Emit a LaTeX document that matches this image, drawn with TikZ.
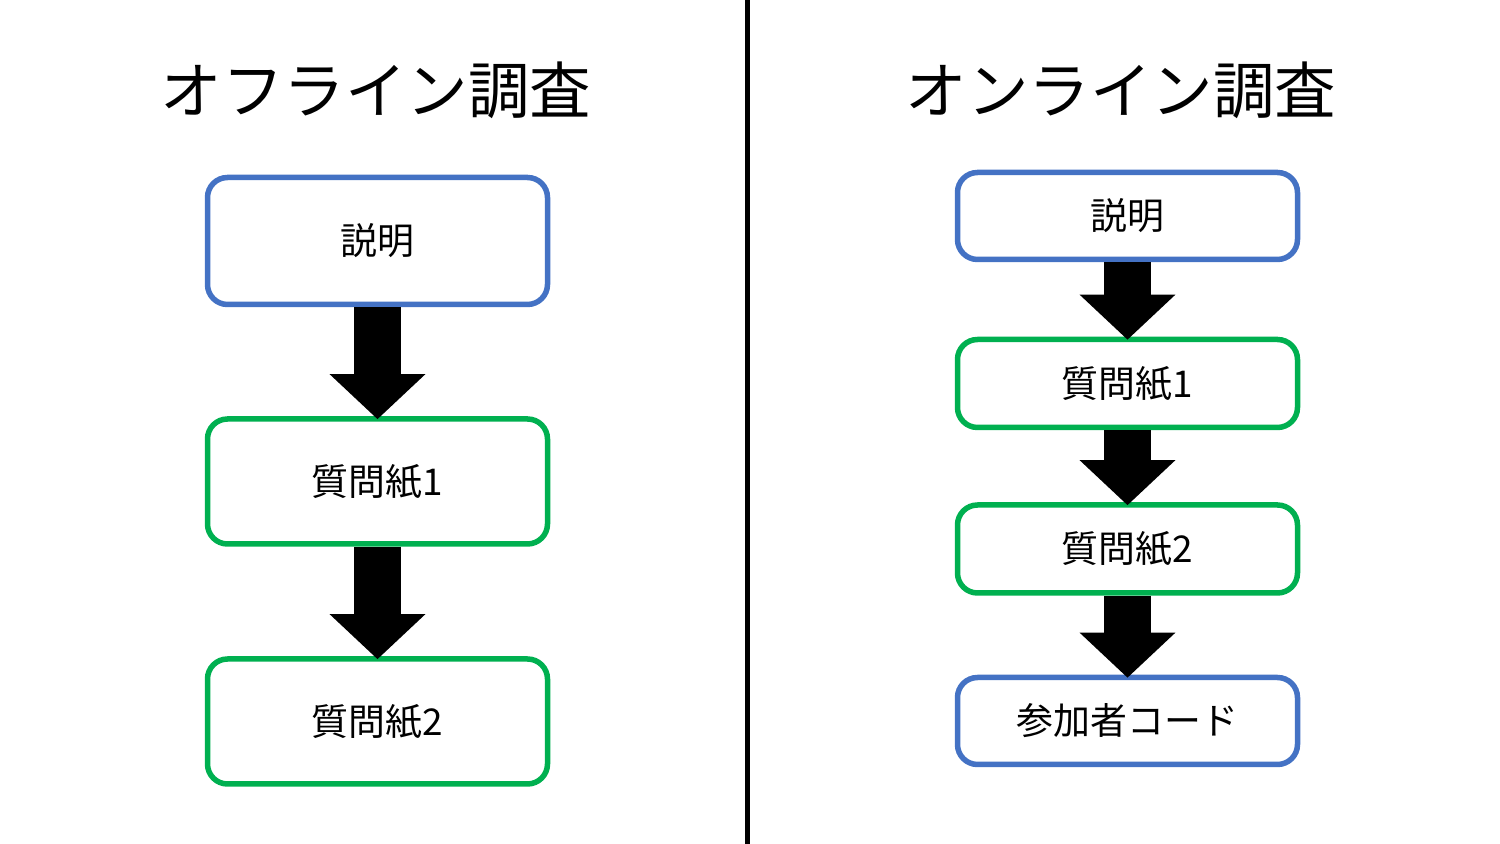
\documentclass[tikz,border=0pt]{standalone}
\usepackage{fontspec}
\setmainfont{Noto Sans CJK JP}
\usepackage{tikz}
\usetikzlibrary{arrows.meta, positioning, calc}
\definecolor{boxblue}{HTML}{4472C4}
\definecolor{boxgreen}{HTML}{00B050}
\tikzstyle{step box}=[rectangle, rounded corners=0.2cm, line width=0.055cm, fill=white, inner sep=0pt, minimum width=3.40cm, font=\fontsize{10.5pt}{12pt}\selectfont]
\tikzstyle{flow}=[line width=0.47cm, shorten >=-0.03cm, -{Triangle[width=0.93cm, length=0.45cm]}]

\begin{document}
\begin{tikzpicture}

\useasboundingbox (0,0) rectangle (15,-8.44);
\tikzstyle{every node}=[font=\fontsize{17.5pt}{20pt}\selectfont];
\node (offtitle) at (3.76,-0.90) {オフライン調査};
\node (ontitle) at (11.21,-0.90) {オンライン調査};
\coordinate (divtop) at (7.475,0);\coordinate (divbot) at (7.475,-8.44);
\draw [line width=0.05cm] (divtop)--(divbot);

% offline
\node[step box, draw=boxblue, minimum height=1.27cm] (off1) at (3.775,-2.41) {説明};
\node[step box, draw=boxgreen, minimum height=1.25cm] (off2) at (3.775,-4.815) {質問紙1};
\node[step box, draw=boxgreen, minimum height=1.25cm] (off3) at (3.775,-7.215) {質問紙2};
\draw [flow] (off1.south)--(off2.north);
\draw [flow] (off2.south)--(off3.north);

% online
\node[step box, draw=boxblue, minimum height=0.87cm] (on1) at (11.275,-2.16) {説明};
\node[step box, draw=boxgreen, minimum height=0.88cm] (on2) at (11.275,-3.835) {質問紙1};
\node[step box, draw=boxgreen, minimum height=0.88cm] (on3) at (11.275,-5.49) {質問紙2};
\node[step box, draw=boxblue, minimum height=0.87cm] (on4) at (11.275,-7.21) {参加者コード};
\draw [flow] (on1.south)--(on2.north);
\draw [flow] (on2.south)--(on3.north);
\draw [flow] (on3.south)--(on4.north);
\end{tikzpicture}
\end{document}
